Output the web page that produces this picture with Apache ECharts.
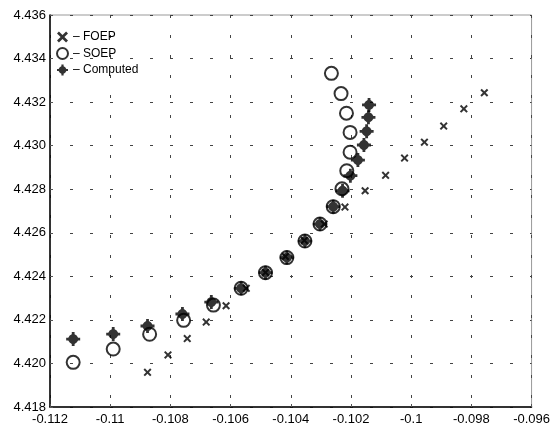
<!DOCTYPE html>
<html>
<head>
<meta charset="utf-8">
<script src="https://cdn.jsdelivr.net/npm/echarts@6/dist/echarts.min.js"></script>
<style>html,body{margin:0;padding:0;background:#fff}#c{width:553px;height:429px}</style>
</head>
<body>
<div id="c"></div>
<script>
var foepX = [-0.10876,-0.10808,-0.10744,-0.10681,-0.10615,-0.10548,-0.10484,-0.10418,-0.10355,-0.10289,-0.10220,-0.10153,-0.10085,-0.10022,-0.09956,-0.09892,-0.09825,-0.09757];
var foepY = [4.41959,4.42039,4.42114,4.42190,4.42265,4.42345,4.42418,4.42491,4.42565,4.42640,4.42718,4.42793,4.42864,4.42943,4.43016,4.43090,4.43169,4.43243];
var soepX = [-0.11123,-0.10990,-0.10869,-0.10756,-0.10657,-0.10565,-0.10484,-0.10413,-0.10353,-0.10303,-0.10259,-0.10230,-0.10214,-0.10203,-0.10203,-0.10215,-0.10233,-0.10265];
var soepY = [4.42005,4.42066,4.42134,4.42198,4.42268,4.42345,4.42417,4.42486,4.42562,4.42640,4.42720,4.42802,4.42885,4.42970,4.43061,4.43149,4.43239,4.43332];
var compX = [-0.11123,-0.10990,-0.10876,-0.10760,-0.10664,-0.10565,-0.10484,-0.10413,-0.10353,-0.10303,-0.10259,-0.10228,-0.10202,-0.10177,-0.10157,-0.10148,-0.10142,-0.10140];
var compY = [4.42112,4.42135,4.42172,4.42227,4.42282,4.42345,4.42417,4.42486,4.42562,4.42640,4.42720,4.42793,4.42862,4.42934,4.43003,4.43066,4.43130,4.43187];
var xTicks = [-0.112,-0.11,-0.108,-0.106,-0.104,-0.102,-0.1,-0.098,-0.096];
var yTicks = [4.418,4.42,4.422,4.424,4.426,4.428,4.43,4.432,4.434,4.436];

function pairs(xs, ys){ return xs.map(function(x,i){ return [x, ys[i]]; }); }
var starPath = 'path://M-2,-10L2,-10L2,-7L5,-5L7,-2L10,-2L10,2L7,2L5,5L2,7L2,10L-2,10L-2,7L-5,5L-7,2L-10,2L-10,-2L-7,-2L-5,-5L-2,-7Z';
var crossPath = 'path://M-10,-6.5L-6.5,-10L0,-3.5L6.5,-10L10,-6.5L3.5,0L10,6.5L6.5,10L0,3.5L-6.5,10L-10,6.5L-3.5,0Z';
var font = 'Liberation Sans, Arial, Helvetica, sans-serif';

var chart = echarts.init(document.getElementById('c'), null, {renderer:'canvas'});
chart.setOption({
  animation: false,
  backgroundColor: '#fff',
  grid: {left:50, right:20, top:15, bottom:22, show:true, borderColor:'#999', borderWidth:1},
  legend: {
    show: true, orient:'vertical', left:51, top:26, itemGap:4, itemWidth:11, itemHeight:11,
    textStyle:{fontFamily:font, fontSize:12, color:'#000'},
    formatter: function(n){ return '– ' + n; },
    data: ['FOEP','SOEP','Computed']
  },
  xAxis: {
    type:'value', min:xTicks[0], max:xTicks[xTicks.length-1], interval:0.002,
    axisLine:{lineStyle:{color:'#000', width:1.5}},
    axisTick:{inside:true, length:3, lineStyle:{color:'#555'}},
    axisLabel:{fontFamily:font, fontSize:13, color:'#000', margin:6,
      formatter:function(v){ return String(+(+v).toFixed(3)); }},
    splitLine:{show:true, lineStyle:{color:'#444', width:1, type:[3,17]}}
  },
  yAxis: {
    type:'value', min:yTicks[0], max:yTicks[yTicks.length-1], interval:0.002,
    axisLine:{lineStyle:{color:'#000', width:1.5}},
    axisTick:{inside:true, length:3, lineStyle:{color:'#555'}},
    axisLabel:{fontFamily:font, fontSize:13, color:'#000', margin:4,
      formatter:function(v){ return (+v).toFixed(3); }},
    splitLine:{show:true, lineStyle:{color:'#444', width:1, type:[3,17]}}
  },
  series: [
    {name:'FOEP', type:'scatter', data:pairs(foepX,foepY), symbol:crossPath, symbolSize:8,
      itemStyle:{color:'#000'}, z:2},
    {name:'Computed', type:'scatter', data:pairs(compX,compY), symbol:starPath, symbolSize:14,
      itemStyle:{color:'#000'}, z:3},
    {name:'SOEP', type:'scatter', data:pairs(soepX,soepY), symbol:'circle', symbolSize:13,
      itemStyle:{color:'rgba(0,0,0,0)', borderColor:'#000', borderWidth:2}, z:4}
  ]
});
</script>
</body>
</html>
